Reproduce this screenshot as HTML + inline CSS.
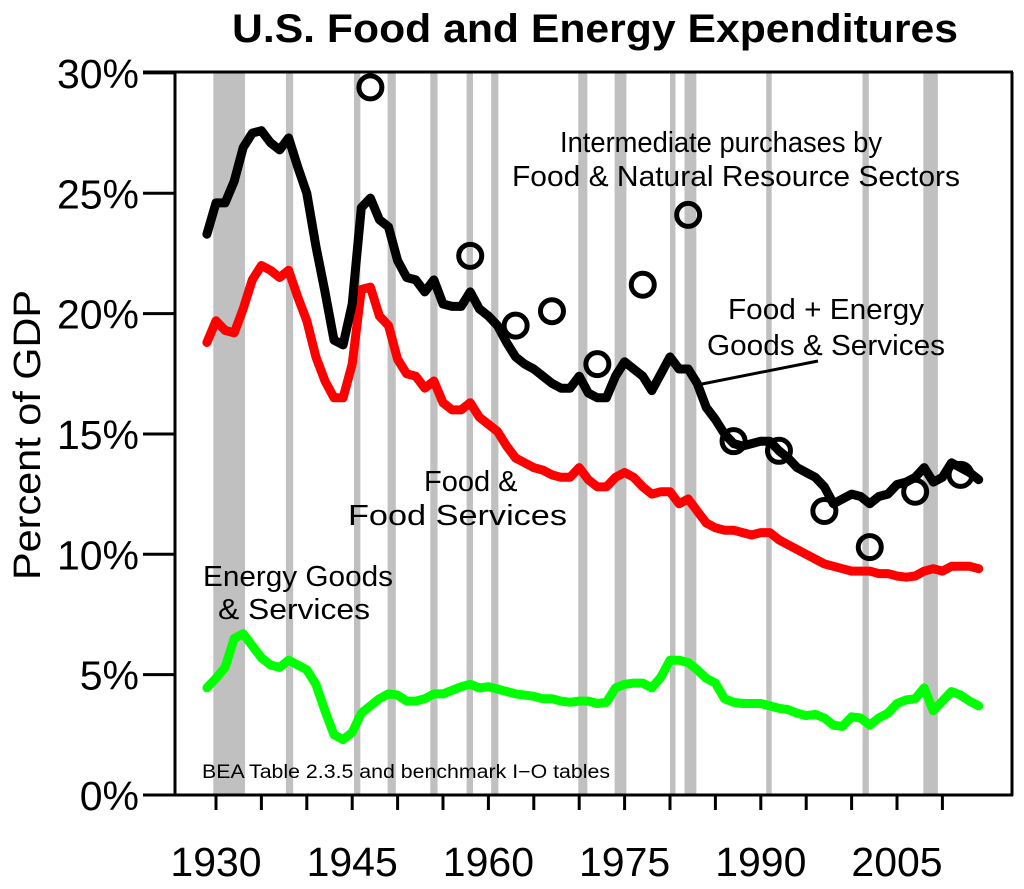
<!DOCTYPE html>
<html><head><meta charset="utf-8"><style>
html,body{margin:0;padding:0;background:#fff;}
svg{display:block;font-family:"Liberation Sans",Arial,sans-serif;}
</style></head><body>
<svg id="chart" width="1024" height="889" viewBox="0 0 1024 889">
<text x="232" y="42" font-size="40" font-weight="bold" textLength="726" lengthAdjust="spacingAndGlyphs">U.S. Food and Energy Expenditures</text>
<text transform="translate(40,435) rotate(-90)" text-anchor="middle" font-size="38" textLength="290" lengthAdjust="spacingAndGlyphs">Percent of GDP</text>
<g id="recessions"></g>
<g id="axes"></g>
<g id="series"></g>
<text x="560" y="152" font-size="29" textLength="322" lengthAdjust="spacingAndGlyphs">Intermediate purchases by</text>
<text x="512" y="186" font-size="29" textLength="448" lengthAdjust="spacingAndGlyphs">Food &amp; Natural Resource Sectors</text>
<text x="728" y="319" font-size="29" textLength="196" lengthAdjust="spacingAndGlyphs">Food + Energy</text>
<text x="707" y="355" font-size="29" textLength="238" lengthAdjust="spacingAndGlyphs">Goods &amp; Services</text>
<line x1="702" y1="384" x2="818" y2="361" stroke="#000" stroke-width="3"/>
<text x="424" y="491" font-size="29">Food &amp;</text>
<text x="348" y="525" font-size="29" textLength="219" lengthAdjust="spacingAndGlyphs">Food Services</text>
<text x="203" y="586" font-size="29" textLength="190" lengthAdjust="spacingAndGlyphs">Energy Goods</text>
<text x="218" y="619" font-size="29" textLength="152" lengthAdjust="spacingAndGlyphs">&amp; Services</text>
<text x="202" y="778" font-size="19" textLength="408" lengthAdjust="spacingAndGlyphs">BEA Table 2.3.5 and benchmark I−O tables</text>
</svg>
<script>
const years = [];
for (let y = 1929; y <= 2014; y++) years.push(y);
const totalFE = [23.3,24.6,24.6,25.5,26.9,27.5,27.6,27.1,26.8,27.3,26.1,25.0,22.8,20.9,18.9,18.7,20.4,24.4,24.8,23.9,23.6,22.2,21.5,21.4,20.9,21.4,20.4,20.3,20.3,20.9,20.2,19.9,19.5,18.8,18.2,17.9,17.7,17.4,17.1,16.9,16.9,17.4,16.7,16.5,16.5,17.4,18.0,17.7,17.4,16.8,17.5,18.2,17.7,17.7,17.1,16.1,15.6,15.0,14.6,14.5,14.6,14.7,14.7,14.3,14.0,13.6,13.4,13.2,12.8,12.1,12.3,12.5,12.4,12.1,12.4,12.5,12.9,13.0,13.2,13.6,13.0,13.2,13.8,13.6,13.4,13.1];
const food = [18.8,19.7,19.3,19.2,20.2,21.4,22.0,21.8,21.5,21.8,20.7,19.7,18.2,17.2,16.5,16.5,17.9,21.0,21.1,19.9,19.5,18.1,17.5,17.4,16.9,17.2,16.3,16.0,16.0,16.3,15.7,15.4,15.1,14.5,14.0,13.8,13.6,13.5,13.3,13.2,13.2,13.6,13.1,12.8,12.8,13.2,13.4,13.2,12.8,12.5,12.6,12.6,12.1,12.3,11.8,11.3,11.1,11.0,11.0,10.9,10.8,10.9,10.9,10.6,10.4,10.2,10.0,9.8,9.6,9.5,9.4,9.3,9.3,9.3,9.2,9.2,9.1,9.05,9.1,9.3,9.4,9.3,9.5,9.5,9.5,9.4];
const energy = [4.45,4.85,5.3,6.5,6.7,6.2,5.7,5.4,5.3,5.6,5.4,5.2,4.6,3.5,2.5,2.3,2.6,3.4,3.7,4.0,4.2,4.15,3.9,3.9,4.0,4.2,4.2,4.35,4.5,4.6,4.45,4.5,4.4,4.3,4.2,4.15,4.1,4.0,4.0,3.9,3.85,3.9,3.9,3.8,3.85,4.45,4.6,4.65,4.65,4.45,4.9,5.6,5.6,5.5,5.2,4.85,4.65,4.0,3.85,3.8,3.8,3.8,3.7,3.6,3.55,3.4,3.3,3.35,3.2,2.9,2.85,3.25,3.2,2.9,3.2,3.4,3.8,3.95,4.0,4.45,3.5,3.9,4.3,4.15,3.9,3.7];
const ioYears = [1947,1958,1963,1967,1972,1977,1982,1987,1992,1997,2002,2007,2012];
const ioValues = [29.4,22.4,19.5,20.1,17.9,21.2,24.1,14.7,14.3,11.8,10.3,12.6,13.3];
const recStart = [1929.7,1937.7,1945.2,1948.9,1953.6,1957.6,1960.3,1969.9,1973.9,1980.0,1981.6,1990.6,2001.2,2007.9];
const recEnd = [1933.2,1938.5,1945.9,1949.8,1954.4,1958.3,1961.1,1970.9,1975.2,1980.6,1982.9,1991.2,2001.9,2009.5];
const yTicks = [0,5,10,15,20,25,30];
const yTickLabels = ["0%","5%","10%","15%","20%","25%","30%"];
const xTicks = [1930,1935,1940,1945,1950,1955,1960,1965,1970,1975,1980,1985,1990,1995,2000,2005,2010];
const xLabels = [1930,1945,1960,1975,1990,2005];

const NS = "http://www.w3.org/2000/svg";
const xs = yr => 216 + (yr - 1930) * 9.08;
const ys = v => 795 - v * 24.07;
function mk(tag, attrs, parent) {
  const e = document.createElementNS(NS, tag);
  for (const k in attrs) e.setAttribute(k, attrs[k]);
  parent.appendChild(e);
  return e;
}
const rec = document.getElementById('recessions');
recStart.forEach((s, i) => {
  const r = mk('rect', {x: xs(s), y: 73, width: xs(recEnd[i]) - xs(s), height: 722, fill: '#c0c0c0'}, rec);
  
  
});
const ax = document.getElementById('axes');
let l;
l = mk('line', {x1: 175, y1: 72, x2: 175, y2: 796, stroke: '#000', 'stroke-width': 3}, ax);


l = mk('line', {x1: 1012, y1: 72, x2: 1012, y2: 796, stroke: '#000', 'stroke-width': 3}, ax);


l = mk('line', {x1: 143, y1: 72, x2: 1013, y2: 72, stroke: '#000', 'stroke-width': 3}, ax);


l = mk('line', {x1: 143, y1: 795, x2: 1013, y2: 795, stroke: '#000', 'stroke-width': 3}, ax);


yTicks.forEach((v, i) => {
  const t = mk('line', {x1: 143, y1: ys(v), x2: 175, y2: ys(v), stroke: '#000', 'stroke-width': 3}, ax);
  
  
  const tx = mk('text', {x: 139, y: ys(v) + 15, 'text-anchor': 'end', 'font-size': 41}, ax);
  tx.textContent = yTickLabels[i];
  
  
});
xTicks.forEach(yr => {
  const t = mk('line', {x1: xs(yr), y1: 795, x2: xs(yr), y2: 810, stroke: '#000', 'stroke-width': 3}, ax);
  
  
});
xLabels.forEach(yr => {
  const tx = mk('text', {x: xs(yr), y: 876, 'text-anchor': 'middle', 'font-size': 41}, ax);
  tx.textContent = yr;
  
  
});
const ser = document.getElementById('series');
function line(vals, color, name) {
  const pts = vals.map((v, i) => xs(years[i]).toFixed(1) + ',' + ys(v).toFixed(1)).join(' ');
  const p = mk('polyline', {points: pts, fill: 'none', stroke: color, 'stroke-width': 9, 'stroke-linejoin': 'round', 'stroke-linecap': 'round'}, ser);
  
  
}
line(energy, '#00ff00', 'energy-line');
line(food, '#ff0000', 'food-line');
line(totalFE, '#000000', 'food-energy-line');
ioYears.forEach((yr, i) => {
  const c = mk('circle', {cx: xs(yr), cy: ys(ioValues[i]), r: 11.5, fill: 'none', stroke: '#000', 'stroke-width': 5}, ser);
  
  
});
</script>
</body></html>
